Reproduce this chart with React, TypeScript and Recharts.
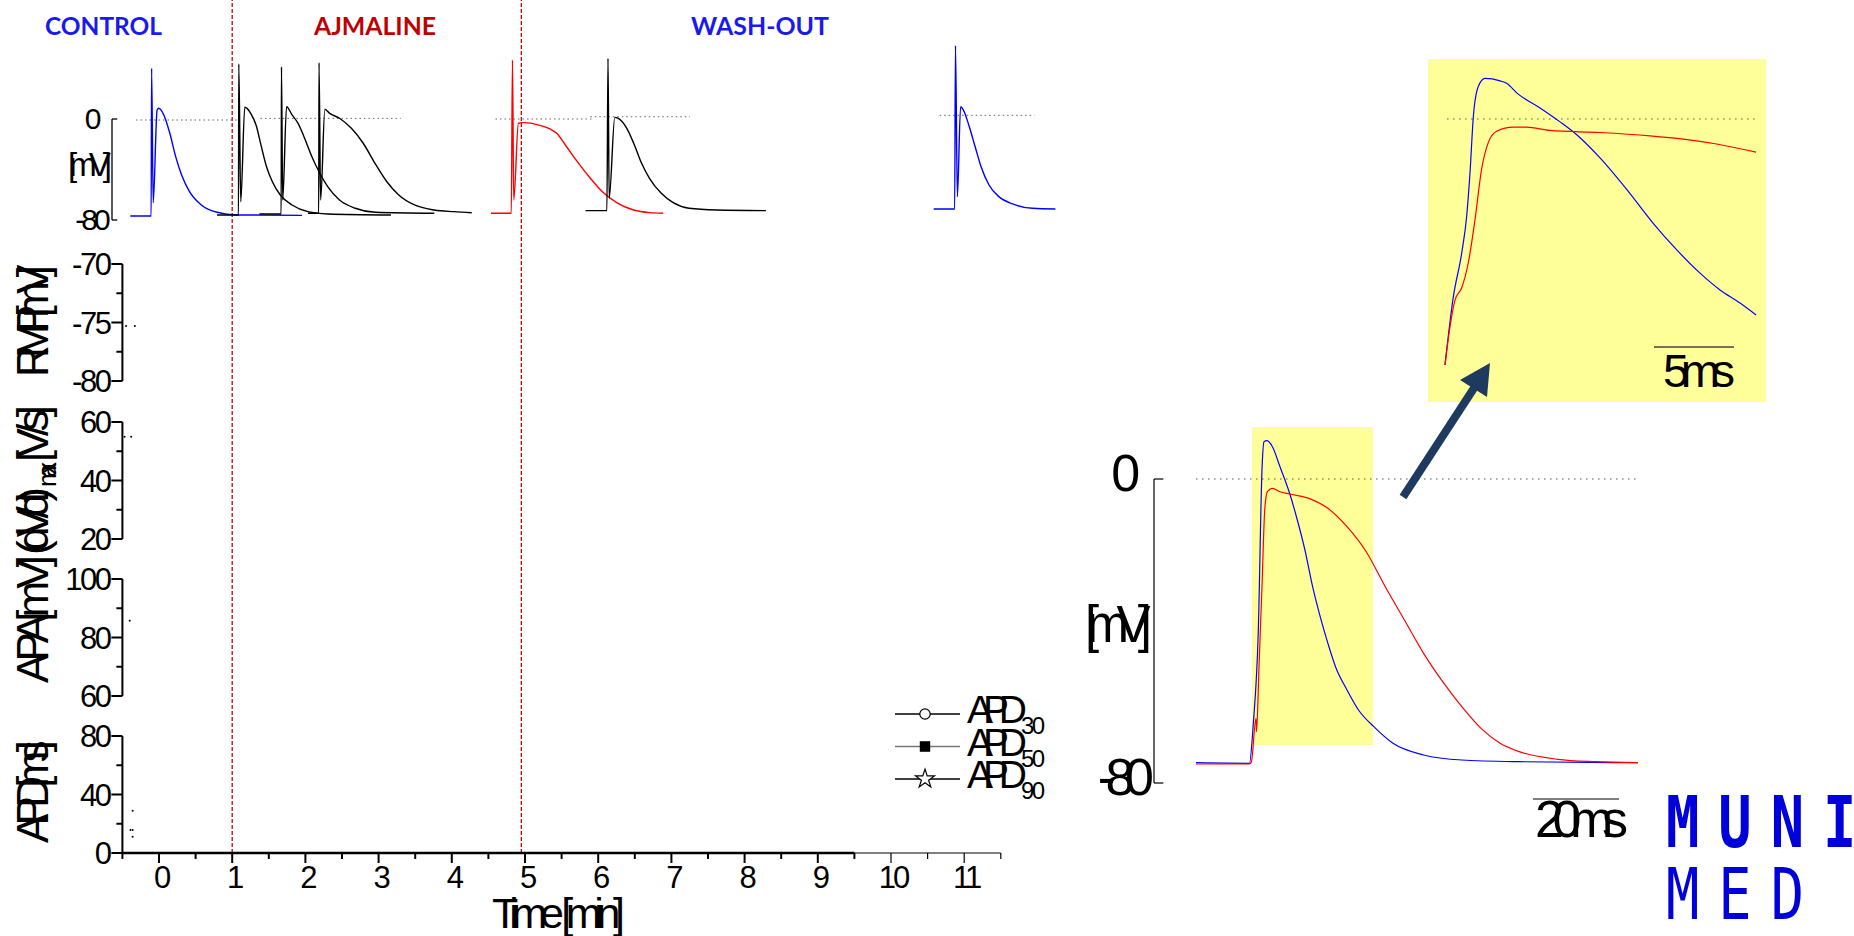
import React from 'react';
import { ComposedChart, Line, XAxis, YAxis, ReferenceLine, ReferenceArea, Symbols } from 'recharts';

type Pt = { t: number; v: number };
const pts = (rows: number[][]): Pt[] => rows.map(([t, v]) => ({ t, v }));

const FONT = '"Liberation Sans", Arial, sans-serif';
const BLUE = '#0000ff';
const RED = '#ff0000';

// action potentials placed along the experiment time axis: [min, mV]
const controlAp = pts([
  [-0.392, -76.8], [-0.107, -76.8], [-0.101, 40.2], [-0.079, -66.3], [-0.026, 7.1], [-0.004, 8.5],
  [0.066, 3.2], [0.148, -11.3], [0.228, -29.8], [0.309, -44.4], [0.417, -57.6], [0.578, -68.1],
  [0.794, -73.9], [1.064, -76.0], [1.954, -76.3],
]);
const ajmalineAp1 = pts([
  [0.792, -76.0], [1.086, -76.0], [1.09, 43.6], [1.117, -65.5], [1.172, 9.3], [1.253, 4.5],
  [1.333, -6.1], [1.388, -19.3], [1.469, -37.8], [1.549, -49.7], [1.657, -60.2], [1.818, -68.1],
  [2.034, -73.4], [2.305, -75.2], [3.169, -76.0],
]);
const ajmalineAp2 = pts([
  [1.372, -75.2], [1.669, -75.2], [1.673, 41.4], [1.69, -64.2], [1.743, 9.7], [1.818, 3.2],
  [1.9, -3.4], [1.981, -14.0], [2.089, -29.9], [2.197, -43.0], [2.305, -53.6], [2.466, -64.2],
  [2.682, -70.7], [2.951, -73.9], [3.761, -74.7],
]);
const ajmalineAp3 = pts([
  [2.036, -74.7], [2.182, -74.7], [2.186, 44.6], [2.208, -64.2], [2.266, 7.7], [2.331, 4.5],
  [2.466, 0.6], [2.628, -7.4], [2.79, -19.2], [2.951, -35.1], [3.113, -49.7], [3.275, -60.2],
  [3.49, -68.1], [3.761, -72.1], [4.03, -73.4], [4.273, -74.2],
]);
const ajmalineAp4 = pts([
  [4.536, -74.7], [4.813, -74.7], [4.829, 46.7], [4.846, -64.2], [4.91, -3.4], [4.975, -2.9],
  [5.191, -4.8], [5.433, -11.3], [5.568, -22.0], [5.73, -34.9], [5.893, -46.9], [6.054, -57.5],
  [6.269, -66.8], [6.485, -72.1], [6.701, -74.2], [6.889, -74.7],
]);
const washoutAp1 = pts([
  [5.827, -72.6], [6.119, -72.6], [6.134, 48.1], [6.15, -62.8], [6.227, 1.3], [6.269, 0.6],
  [6.377, -6.1], [6.485, -19.2], [6.593, -35.1], [6.701, -47.0], [6.862, -58.9], [7.025, -66.3],
  [7.24, -70.7], [7.617, -72.1], [8.292, -72.6],
]);
const washoutAp2 = pts([
  [10.583, -71.3], [10.87, -71.3], [10.881, 58.1], [10.907, -61.5], [10.951, 9.7], [10.989, 7.1],
  [11.07, -6.1], [11.15, -22.0], [11.231, -37.8], [11.339, -52.3], [11.474, -61.5], [11.663, -67.3],
  [11.933, -70.7], [12.246, -71.3],
]);
const recordings = [
  { key: 'control', color: BLUE, data: controlAp },
  { key: 'ajm1', color: '#000', data: ajmalineAp1 },
  { key: 'ajm2', color: '#000', data: ajmalineAp2 },
  { key: 'ajm3', color: '#000', data: ajmalineAp3 },
  { key: 'ajm4', color: RED, data: ajmalineAp4 },
  { key: 'wash1', color: '#000', data: washoutAp1 },
  { key: 'wash2', color: BLUE, data: washoutAp2 },
];
// 0 mV reference for each recording: [from min, to min, mV]
const zeroRefs = [
  [-0.314, 1.066, -0.8], [1.386, 3.302, 0.5], [4.597, 5.909, 0], [5.892, 7.254, 1.8], [10.665, 11.96, 2.9],
];
const drugMarks = [1.0, 4.95];

const timeTicks = [-0.5, 0, 0.5, 1, 1.5, 2, 2.5, 3, 3.5, 4, 4.5, 5, 5.5, 6, 6.5, 7, 7.5, 8, 8.5, 9, 9.5, 10, 10.5, 11, 11.5];
const timeLabels = [0, 1, 2, 3, 4, 5, 6, 7, 8, 9, 10, 11];

const rmpTicks = [-80, -77.5, -75, -72.5, -70];
const rmpLabels = [-80, -75, -70];
const dvdtTicks = [20, 30, 40, 50, 60];
const dvdtLabels = [20, 40, 60];
const apaTicks = [60, 70, 80, 90, 100];
const apaLabels = [60, 80, 100];
const apdTicks = [0, 20, 40, 60, 80];
const apdLabels = [0, 40, 80];

const rmpValues = pts([[-0.45, -75.3], [-0.33, -75.3]]);
const dvdtValues = pts([[-0.47, 55.0], [-0.38, 55.0]]);
const apaValues = pts([[-0.4, 85.7]]);
const apd30Values = pts([[-0.36, 11.1]]);
const apd50Values = pts([[-0.39, 15.7], [-0.36, 15.7]]);
const apd90Values = pts([[-0.36, 28.9]]);

// overlay of control vs ajmaline: [ms, mV]
const bigControl = pts([
  [0, -74.66], [12.42, -74.82], [13.33, -64.29], [14.47, -40.61], [15.37, 3.24], [15.81, 9.82],
  [16.47, 10.08], [17.77, 8.5], [19.53, 3.24], [21.77, -3.76], [23.56, -10.79], [25.33, -18.68],
  [27.12, -28.34], [28.88, -36.24], [30.67, -43.24], [32.44, -49.39], [35.12, -55.53], [37.79, -60.79],
  [41.35, -65.18], [45.81, -69.55], [52.93, -72.63], [61.81, -73.95], [75.16, -74.39], [102.77, -74.66],
]);
const bigAjmaline = pts([
  [0, -75.0], [12.42, -75.0], [12.88, -74.39], [13.95, -62.97], [14.07, -66.5], [14.65, -49.39],
  [15.37, -27.45], [15.98, -8.16], [16.6, -3.34], [17.77, -2.45], [19.53, -3.34], [21.77, -3.95],
  [26.23, -5.08], [30.67, -7.71], [35.12, -12.55], [39.58, -19.13], [44.02, -28.34], [48.47, -37.11],
  [52.93, -45.87], [57.37, -53.34], [61.81, -59.92], [66.28, -65.61], [70.72, -69.55], [75.16, -71.76],
  [84.07, -73.76], [92.98, -74.39], [102.77, -74.66],
]);

// magnified upstroke: [ms, mV]
const zoomControl = pts([
  [0, -60.0], [0.52, -43.4], [1.04, -32.8], [1.35, -23.9], [1.56, -13.3], [1.77, 0.5], [2.08, 7.9],
  [2.5, 9.9], [3.44, 9.3], [3.85, 8.7], [4.5, 6.3], [5.94, 2.7], [7.19, -0.7], [8.25, -3.9],
  [9.69, -9.5], [11.38, -17.3], [13.0, -25.4], [14.5, -32.0], [15.94, -37.6], [17.19, -41.7],
  [18.44, -44.9], [19.44, -47.8],
]);
const zoomAjmaline = pts([
  [0, -60.0], [0.31, -50.7], [0.63, -44.1], [1.04, -41.2], [1.46, -35.0], [1.88, -24.4], [2.29, -12.2],
  [2.71, -5.7], [3.23, -3.0], [4.27, -2.0], [5.1, -2.0], [6.56, -2.8], [9.69, -3.3], [12.81, -4.1],
  [14.9, -4.9], [16.98, -6.1], [19.44, -8.1],
]);

const apdLegend = [
  { name: 'APD', sub: '30', symbol: 'circle', fill: '#fff', line: '#000' },
  { name: 'APD', sub: '50', symbol: 'square', fill: '#000', line: '#777' },
  { name: 'APD', sub: '90', symbol: 'star', fill: '#fff', line: '#000' },
];

const TimeTick = (props: any) => {
  const { x, y, payload } = props;
  const v = payload.value;
  const major = timeLabels.includes(v);
  return (
    <g>
      <line x1={x} x2={x} y1={y} y2={y + (major ? 10 : 6)} stroke="#000" strokeWidth={v > 9.6 ? 1.2 : 2} />
      {major && (
        <text x={x + 2} y={y + 35} textAnchor="middle" fontFamily={FONT} fontSize={31} letterSpacing={-3} fill="#000">
          {v}
        </text>
      )}
    </g>
  );
};

const sideTick = (labels: number[]) => (props: any) => {
  const { x, y, payload } = props;
  const major = labels.includes(payload.value);
  return (
    <g>
      <line x1={x - (major ? 11 : 6)} x2={x} y1={y} y2={y} stroke="#000" strokeWidth={2} />
      {major && (
        <text x={x - 13} y={y} dy="0.36em" textAnchor="end" fontFamily={FONT} fontSize={31} letterSpacing={-2.5} fill="#000">
          {payload.value}
        </text>
      )}
    </g>
  );
};

const centeredTick = (dx: number, dy: number, size: number, ls: number) => (props: any) => {
  const { x, y, payload } = props;
  return (
    <text x={x + dx} y={y + dy} dy="0.36em" textAnchor="middle" fontFamily={FONT} fontSize={size} letterSpacing={ls} fill="#000">
      {payload.value}
    </text>
  );
};

function Panel({ top, domain, ticks, labels, series, withTime }: any) {
  const mt = 14;
  const plotH = 117;
  const mb = withTime ? 0 : 14;
  const h = mt + plotH + (withTime ? 62 : mb);
  return (
    <div style={{ position: 'absolute', left: 0, top: top - mt }}>
      <ComposedChart width={1010} height={h} margin={{ top: mt, right: 9.2, bottom: mb, left: 0 }} style={{ overflow: 'visible' }}>
        {withTime ? (
          <XAxis
            type="number"
            dataKey="t"
            domain={[-0.5, 11.5]}
            allowDataOverflow
            ticks={timeTicks}
            interval={0}
            height={62}
            tickSize={0}
            tickMargin={0}
            tickLine={false}
            tick={(p: any) => <TimeTick {...p} />}
            axisLine={{ stroke: '#000', strokeWidth: 1.2 }}
          />
        ) : (
          <XAxis type="number" dataKey="t" domain={[-0.5, 11.5]} allowDataOverflow hide />
        )}
        <YAxis
          type="number"
          domain={domain}
          allowDataOverflow
          ticks={ticks}
          interval={0}
          width={122.4}
          tickSize={0}
          tickMargin={0}
          tickLine={false}
          tick={sideTick(labels)}
          axisLine={{ stroke: '#000', strokeWidth: 2 }}
        />
        {withTime && (
          <ReferenceLine segment={[{ x: -0.5, y: 0 }, { x: 9.5, y: 0 }]} stroke="#000" strokeWidth={2.4} ifOverflow="visible" />
        )}
        {series.map((s: any) => (
          <Line
            key={s.key}
            data={s.data}
            dataKey="v"
            stroke="none"
            dot={{ r: 1, fill: '#000', stroke: 'none' }}
            isAnimationActive={false}
          />
        ))}
      </ComposedChart>
    </div>
  );
}

export default function App() {
  return (
    <div style={{ position: 'absolute', left: 0, top: 0, width: 1854, height: 936, background: '#fff', overflow: 'hidden' }}>
      {/* recordings strip + drug application marks */}
      <div style={{ position: 'absolute', left: 0, top: 0 }}>
        <ComposedChart width={1080} height={860} margin={{ top: 0, right: 20, bottom: 7, left: 0 }}>
          <XAxis type="number" dataKey="t" domain={[-0.642, 12.309]} allowDataOverflow hide />
          <YAxis
            type="number"
            domain={[-581.39, 94.257]}
            allowDataOverflow
            ticks={[-80, 0]}
            interval={0}
            width={112}
            tickSize={0}
            tickMargin={0}
            tickLine={false}
            axisLine={false}
            tick={centeredTick(-21, -1, 30, -4)}
          />
          <ReferenceLine segment={[{ x: -0.642, y: 0 }, { x: -0.642, y: -80 }]} stroke="#000" strokeWidth={1.3} ifOverflow="visible" />
          <ReferenceLine segment={[{ x: -0.642, y: 0 }, { x: -0.57, y: 0 }]} stroke="#000" strokeWidth={1.3} ifOverflow="visible" />
          <ReferenceLine segment={[{ x: -0.642, y: -80 }, { x: -0.57, y: -80 }]} stroke="#000" strokeWidth={1.3} ifOverflow="visible" />
          {zeroRefs.map(([a, b, v]) => (
            <ReferenceLine
              key={a}
              segment={[{ x: a, y: v }, { x: b, y: v }]}
              stroke="#666"
              strokeWidth={1}
              strokeDasharray="1.5 3"
              ifOverflow="visible"
            />
          ))}
          {drugMarks.map((m) => (
            <ReferenceLine key={m} x={m} stroke="#d00000" strokeWidth={1.3} strokeDasharray="4 2" ifOverflow="visible" />
          ))}
          {recordings.map((r) => (
            <Line
              key={r.key}
              data={r.data}
              dataKey="v"
              type="monotone"
              stroke={r.color}
              strokeWidth={1.4}
              dot={false}
              isAnimationActive={false}
            />
          ))}
        </ComposedChart>
      </div>

      <Panel top={264} domain={[-80, -70]} ticks={rmpTicks} labels={rmpLabels} series={[{ key: 'rmp', data: rmpValues }]} />
      <Panel top={422} domain={[20, 60]} ticks={dvdtTicks} labels={dvdtLabels} series={[{ key: 'dvdt', data: dvdtValues }]} />
      <Panel top={579} domain={[60, 100]} ticks={apaTicks} labels={apaLabels} series={[{ key: 'apa', data: apaValues }]} />
      <Panel
        top={736}
        domain={[0, 80]}
        ticks={apdTicks}
        labels={apdLabels}
        withTime
        series={[
          { key: 'apd30', data: apd30Values },
          { key: 'apd50', data: apd50Values },
          { key: 'apd90', data: apd90Values },
        ]}
      />

      {/* control vs ajmaline overlay */}
      <div style={{ position: 'absolute', left: 1100, top: 400 }}>
        <ComposedChart width={560} height={420} margin={{ top: 20, right: 22, bottom: 15, left: 0 }}>
          <XAxis type="number" dataKey="t" domain={[-9.77, 102.79]} allowDataOverflow hide />
          <YAxis
            type="number"
            domain={[-85.79, 15.53]}
            allowDataOverflow
            ticks={[-80, 0]}
            interval={0}
            width={54}
            tickSize={0}
            tickMargin={0}
            tickLine={false}
            axisLine={false}
            tick={centeredTick(-33, -7, 52, -9.5)}
          />
          <ReferenceArea x1={13.02} x2={41.16} y1={-70} y2={13.68} fill="#ffff99" fillOpacity={1} stroke="none" ifOverflow="visible" />
          <ReferenceLine segment={[{ x: -9.77, y: 0 }, { x: -9.77, y: -80 }]} stroke="#000" strokeWidth={1.2} ifOverflow="visible" />
          <ReferenceLine segment={[{ x: -9.77, y: 0 }, { x: -7.6, y: 0 }]} stroke="#000" strokeWidth={1.2} ifOverflow="visible" />
          <ReferenceLine segment={[{ x: -9.77, y: -80 }, { x: -7.6, y: -80 }]} stroke="#000" strokeWidth={1.2} ifOverflow="visible" />
          <ReferenceLine segment={[{ x: 0, y: 0 }, { x: 102.79, y: 0 }]} stroke="#555" strokeWidth={1} strokeDasharray="1.5 4.5" ifOverflow="visible" />
          <ReferenceLine segment={[{ x: 78.37, y: -84.2 }, { x: 98.37, y: -84.2 }]} stroke="#555" strokeWidth={1.4} ifOverflow="visible" />
          <Line data={bigControl} dataKey="v" type="monotone" stroke={BLUE} strokeWidth={1.2} dot={false} isAnimationActive={false} />
          <Line data={bigAjmaline} dataKey="v" type="monotone" stroke={RED} strokeWidth={1.2} dot={false} isAnimationActive={false} />
        </ComposedChart>
      </div>

      {/* magnified upstroke */}
      <div style={{ position: 'absolute', left: 1428, top: 59 }}>
        <ComposedChart width={338} height={343} margin={{ top: 0, right: 0, bottom: 0, left: 0 }}>
          <XAxis type="number" dataKey="t" domain={[-1.0625, 20.0625]} allowDataOverflow hide />
          <YAxis type="number" domain={[-69.02, 14.63]} allowDataOverflow hide />
          <ReferenceArea x1={-1.0625} x2={20.0625} y1={-69.02} y2={14.63} fill="#ffff99" fillOpacity={1} stroke="none" ifOverflow="visible" />
          <ReferenceLine segment={[{ x: 0.13, y: 0 }, { x: 19.38, y: 0 }]} stroke="#555" strokeWidth={1} strokeDasharray="1.5 4.5" ifOverflow="visible" />
          <ReferenceLine segment={[{ x: 13.06, y: -55.6 }, { x: 18.06, y: -55.6 }]} stroke="#444" strokeWidth={1.4} ifOverflow="visible" />
          <Line data={zoomControl} dataKey="v" type="monotone" stroke={BLUE} strokeWidth={1.2} dot={false} isAnimationActive={false} />
          <Line data={zoomAjmaline} dataKey="v" type="monotone" stroke={RED} strokeWidth={1.2} dot={false} isAnimationActive={false} />
        </ComposedChart>
      </div>

      {/* titles, axis names, legend, arrow, logo */}
      <svg width={1854} height={936} style={{ position: 'absolute', left: 0, top: 0, pointerEvents: 'none' }} fontFamily={FONT}>
        <text x={45} y={35} fontFamily="Lato, sans-serif" fontWeight={700} fontSize={25} fill="#1a1aee" textLength={117} lengthAdjust="spacingAndGlyphs">CONTROL</text>
        <text x={314} y={35} fontFamily="Lato, sans-serif" fontWeight={700} fontSize={25} fill="#c00000" textLength={122} lengthAdjust="spacingAndGlyphs">AJMALINE</text>
        <text x={691} y={35} fontFamily="Lato, sans-serif" fontWeight={700} fontSize={25} fill="#1a1aee" textLength={138} lengthAdjust="spacingAndGlyphs">WASH-OUT</text>

        <text x={68} y={176} fontSize={33} textLength={44} lengthAdjust="spacing">[mV]</text>

        <text transform="translate(48,377) rotate(-90)" fontSize={44} textLength={112} lengthAdjust="spacing">RMP[mV]</text>
        <text transform="translate(48,555) rotate(-90)" fontSize={44} textLength={68} lengthAdjust="spacing">(dV/dt)</text>
        <text transform="translate(56,487) rotate(-90)" fontSize={26} textLength={25} lengthAdjust="spacing">max</text>
        <text transform="translate(48,462) rotate(-90)" fontSize={44} textLength={57} lengthAdjust="spacing">[V/s]</text>
        <text transform="translate(48,683) rotate(-90)" fontSize={44} textLength={128} lengthAdjust="spacing">APA[mV]</text>
        <text transform="translate(48,843) rotate(-90)" fontSize={44} textLength={103} lengthAdjust="spacing">APD[ms]</text>

        <text x={492} y={928} fontSize={43} textLength={133} lengthAdjust="spacing">Time [min]</text>

        {apdLegend.map((e, i) => {
          const y = 714 + i * 32.5;
          return (
            <g key={e.sub}>
              <line x1={895} x2={960} y1={y} y2={y} stroke={e.line} strokeWidth={1.3} />
              <Symbols cx={925} cy={y} type={e.symbol as any} size={e.symbol === 'star' ? 110 : 85} fill={e.fill} stroke="#000" strokeWidth={1.2} />
              <text x={967} y={y + 9} fontSize={39} textLength={60} lengthAdjust="spacing">{e.name}</text>
              <text x={1021} y={y + 20} fontSize={24} textLength={24} lengthAdjust="spacing">{e.sub}</text>
            </g>
          );
        })}

        <text x={1085} y={642} fontSize={51} textLength={67} lengthAdjust="spacing">[mV]</text>
        <text x={1535} y={837} fontSize={52} textLength={93} lengthAdjust="spacing">20ms</text>
        <text x={1663} y={387} fontSize={47} textLength={72} lengthAdjust="spacing">5ms</text>

        <line x1={1403} y1={497} x2={1476} y2={385} stroke="#1f3a5f" strokeWidth={8} />
        <polygon points="1490,363 1460,380 1487,397" fill="#1f3a5f" />

        <text transform="translate(1666,847) scale(0.78,1)" fontFamily='"DejaVu Sans Mono", monospace' fontWeight={700} fontSize={71} letterSpacing={24.4} fill="#0000dc">MUNI</text>
        <text transform="translate(1666,919) scale(0.78,1)" fontFamily='"DejaVu Sans Mono", monospace' fontWeight={400} fontSize={71} letterSpacing={24.4} fill="#0000dc">MED</text>
      </svg>
    </div>
  );
}
